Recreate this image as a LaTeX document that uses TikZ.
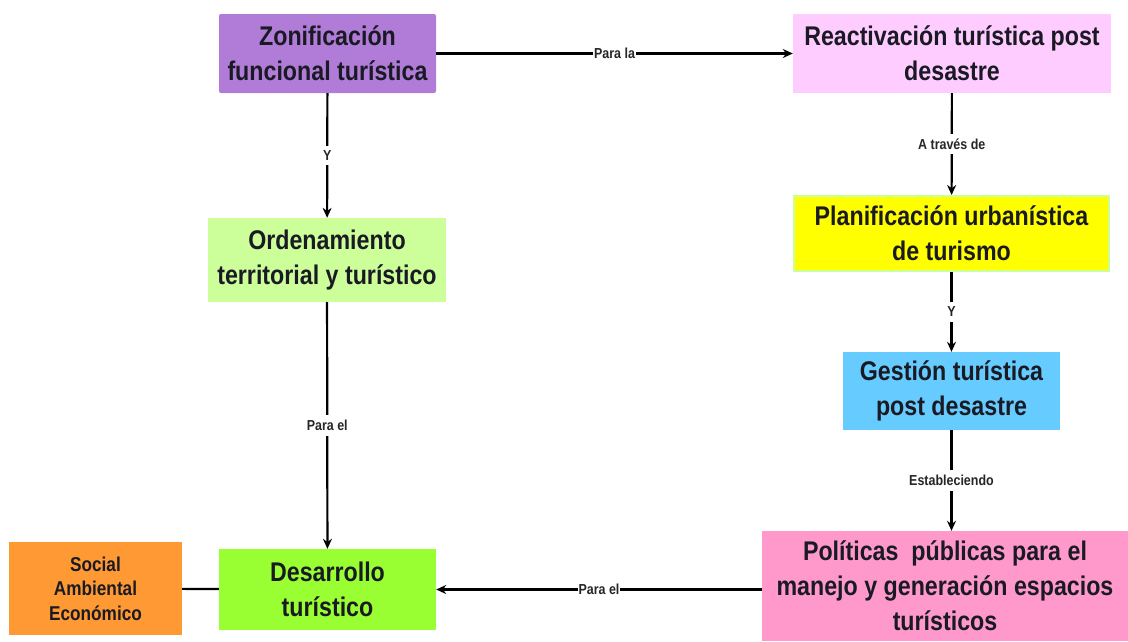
\documentclass[tikz,border=0pt]{standalone}
\usepackage{fontspec}
\setmainfont{Liberation Sans}
\newfontfamily\boxfont[FakeStretch=0.86]{Liberation Sans}
\usepackage{xcolor}
\usetikzlibrary{arrows.meta,positioning}

\definecolor{zonifcol}{HTML}{B07CD8}
\definecolor{reactcol}{HTML}{FFCCFF}
\definecolor{ordencol}{HTML}{CCFF99}
\definecolor{planifcol}{HTML}{FFFF00}
\definecolor{gestcol}{HTML}{66CCFF}
\definecolor{politcol}{HTML}{FF99CC}
\definecolor{desarcol}{HTML}{99FF33}
\definecolor{socialcol}{HTML}{FF9933}
\definecolor{txtcol}{HTML}{1A1A24}

\tikzset{
  boxnode/.style={text=txtcol, align=center, inner sep=2pt,
    font=\boxfont\bfseries\fontsize{27}{35}\selectfont},
  linklabel/.style={fill=white, inner xsep=1pt, inner ysep=5pt, text=black!85,
    font=\boxfont\bfseries\fontsize{14.5}{16}\selectfont},
  link/.style={line width=2.2pt, -{Stealth[length=10pt,width=9pt]}},
}

\begin{document}
\begin{tikzpicture}[x=1pt, y=-1pt]
    \useasboundingbox (0,0) rectangle (1128,641);
    % upper row
    \node (zonif) at (327.5,53.5) [boxnode, fill=zonifcol, rounded corners=2pt,
        minimum width=217pt, minimum height=79pt] {Zonificación\\funcional turística};
    \node (react) at (952,53.5) [boxnode, fill=reactcol,
        minimum width=318pt, minimum height=79pt] {Reactivación turística post\\desastre};
    % left column
    \node (orden) at (327,260) [boxnode, fill=ordencol,
        minimum width=238pt, minimum height=84pt] {Ordenamiento\\territorial y turístico};
    \node (desar) at (327.5,589.5) [boxnode, fill=desarcol,
        minimum width=217pt, minimum height=81pt] {Desarrollo\\turístico};
    \node (social) at (95.5,588.5) [boxnode, fill=socialcol,
        font=\boxfont\bfseries\fontsize{20}{24.5}\selectfont,
        minimum width=173pt, minimum height=93pt] {Social\\Ambiental\\Económico};
    % right column
    \node (planif) at (951.5,233.5) [boxnode, fill=planifcol, draw=ordencol, line width=2pt,
        minimum width=315pt, minimum height=75pt] {Planificación urbanística\\de turismo};
    \node (gest) at (951.5,391) [boxnode, fill=gestcol,
        minimum width=217pt, minimum height=78pt] {Gestión turística\\post desastre};
    \node (polit) at (945,586) [boxnode, fill=politcol,
        minimum width=366pt, minimum height=110pt]
        {Políticas~ públicas para el\\manejo y generación espacios\\turísticos};
    % connectors
    \draw[link] (zonif) -- node[linklabel] {Para la} (react);
    \draw[link] (zonif) -- node[linklabel] {Y} (orden);
    \draw[link] (orden) -- node[linklabel] {Para el} (desar);
    \draw[link] (react) -- node[linklabel] {A través de} (planif);
    \draw[link] (planif) -- node[linklabel] {Y} (gest);
    \draw[link] (gest.south) -- node[linklabel] {Estableciendo} (gest.south |- polit.north);
    \draw[link] (polit.west |- desar.east) -- node[linklabel] {Para el} (desar.east);
    \draw[line width=2.2pt] (social) -- (desar);
\end{tikzpicture}
\end{document}
